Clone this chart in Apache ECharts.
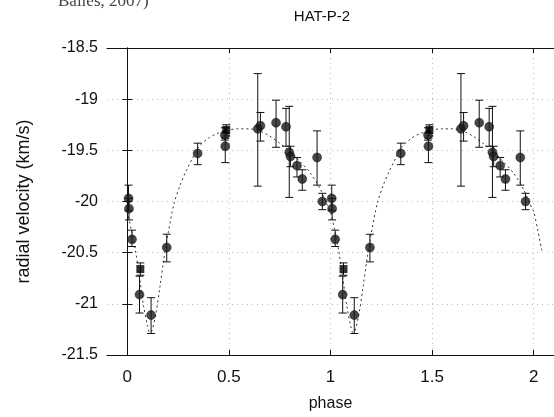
<!DOCTYPE html>
<html><head><meta charset="utf-8">
<script src="https://cdn.jsdelivr.net/npm/echarts@6/dist/echarts.min.js"></script>
<style>html,body{margin:0;padding:0;background:#fff}#c{width:554px;height:417px}</style>
</head><body><div id="c"></div>
<script>
const titleText = 'HAT-P-2';
const xName = 'phase';
const yName = 'radial velocity (km/s)';
const xTicks = [0, 0.5, 1, 1.5, 2];

// circle measurements (two folded cycles)
const circPhase = [0.006, 0.008, 0.023, 0.060, 0.117, 0.194, 0.346, 0.480, 0.482, 0.642, 0.655, 0.732, 0.781, 0.797, 0.803, 0.835, 0.861, 0.934, 0.960,
                   1.006, 1.008, 1.023, 1.060, 1.117, 1.194, 1.346, 1.480, 1.482, 1.642, 1.655, 1.732, 1.781, 1.797, 1.803, 1.835, 1.861, 1.934, 1.960];
const circRV    = [-19.97, -20.07, -20.37, -20.91, -21.11, -20.45, -19.53, -19.35, -19.46, -19.29, -19.26, -19.23, -19.27, -19.52, -19.56, -19.65, -19.78, -19.57, -20.00,
                   -19.97, -20.07, -20.37, -20.91, -21.11, -20.45, -19.53, -19.35, -19.46, -19.29, -19.26, -19.23, -19.27, -19.52, -19.56, -19.65, -19.78, -19.57, -20.00];
const circLo    = [-20.09, -20.18, -20.44, -21.09, -21.29, -20.59, -19.64, -19.40, -19.62, -19.85, -19.41, -19.47, -19.46, -19.96, -19.66, -19.76, -19.89, -19.84, -20.08,
                   -20.09, -20.18, -20.44, -21.09, -21.29, -20.59, -19.64, -19.40, -19.62, -19.85, -19.41, -19.47, -19.46, -19.96, -19.66, -19.76, -19.89, -19.84, -20.08];
const circHi    = [-19.84, -19.97, -20.28, -20.73, -20.94, -20.32, -19.43, -19.28, -19.38, -18.75, -19.13, -19.01, -19.09, -19.07, -19.46, -19.57, -19.69, -19.31, -19.92,
                   -19.84, -19.97, -20.28, -20.73, -20.94, -20.32, -19.43, -19.28, -19.38, -18.75, -19.13, -19.01, -19.09, -19.07, -19.46, -19.57, -19.69, -19.31, -19.92];

// square measurements
const sqPhase = [0.064, 0.487, 1.064, 1.487];
const sqRV    = [-20.66, -19.30, -20.66, -19.30];
const sqLo    = [-20.72, -19.36, -20.72, -19.36];
const sqHi    = [-20.60, -19.25, -20.60, -19.25];

// model curve
const modelPhase = [0.00, 0.02, 0.04, 0.06, 0.08, 0.10, 0.11, 0.12, 0.14, 0.16, 0.18, 0.20, 0.23, 0.26, 0.29, 0.32, 0.35, 0.40, 0.45, 0.50, 0.55, 0.60, 0.65, 0.70, 0.75, 0.80, 0.85, 0.90, 0.95, 0.98,
                    1.00, 1.02, 1.04, 1.06, 1.08, 1.10, 1.11, 1.12, 1.14, 1.16, 1.18, 1.20, 1.23, 1.26, 1.29, 1.32, 1.35, 1.40, 1.45, 1.50, 1.55, 1.60, 1.65, 1.70, 1.75, 1.80, 1.85, 1.90, 1.95, 1.98,
                    2.00, 2.02, 2.04];
const modelRV = [-20.10, -20.28, -20.48, -20.74, -21.02, -21.22, -21.28, -21.27, -21.10, -20.84, -20.56, -20.32, -20.02, -19.84, -19.70, -19.58, -19.47, -19.38, -19.33, -19.30, -19.29, -19.29, -19.31, -19.36, -19.43, -19.51, -19.61, -19.72, -19.88, -20.02,
                 -20.10, -20.28, -20.48, -20.74, -21.02, -21.22, -21.28, -21.27, -21.10, -20.84, -20.56, -20.32, -20.02, -19.84, -19.70, -19.58, -19.47, -19.38, -19.33, -19.30, -19.29, -19.29, -19.31, -19.36, -19.43, -19.51, -19.61, -19.72, -19.88, -20.02,
                 -20.10, -20.28, -20.48];

const zip = (a, b) => a.map((v, i) => [v, b[i]]);
const errData = circPhase.map((p, i) => [p, circLo[i], circHi[i]])
  .concat(sqPhase.map((p, i) => [p, sqLo[i], sqHi[i]]));

const FONT = 'Liberation Sans';
const chart = echarts.init(document.getElementById('c'), null, {renderer: 'canvas'});

function errRender(params, api) {
  const x = api.value(0);
  const top = api.coord([x, api.value(2)]);
  const bot = api.coord([x, api.value(1)]);
  const cw = 4;
  const st = {stroke: '#111', lineWidth: 1};
  return {type: 'group', children: [
    {type: 'line', shape: {x1: top[0], y1: top[1], x2: bot[0], y2: bot[1]}, style: st},
    {type: 'line', shape: {x1: top[0] - cw, y1: top[1], x2: top[0] + cw, y2: top[1]}, style: st},
    {type: 'line', shape: {x1: bot[0] - cw, y1: bot[1], x2: bot[0] + cw, y2: bot[1]}, style: st}
  ]};
}

const xCommon = {type: 'value', min: -0.1, max: 2.1};
const yCommon = {type: 'value', min: -21.5, max: -18.5, interval: 0.5};

chart.setOption({
  animation: false,
  backgroundColor: '#fff',
  grid: {left: 107, right: -3, top: 48, bottom: 62},
  graphic: [
    {type: 'text', x: 322, y: 17, style: {text: titleText, font: '15px "Liberation Sans"', fill: '#111', textAlign: 'center', textVerticalAlign: 'middle'}},
    {type: 'text', x: 58, y: -7, style: {text: 'Bailes, 2007)', font: '17px "Liberation Serif"', fill: '#444', textAlign: 'left', textVerticalAlign: 'top'}}
  ],
  xAxis: [
    Object.assign({}, xCommon, {
      position: 'bottom',
      name: xName, nameLocation: 'middle', nameGap: 41,
      nameTextStyle: {fontFamily: FONT, fontSize: 16, color: '#111'},
      axisLine: {show: true, lineStyle: {color: '#111', width: 1}},
      axisTick: {show: true, inside: true, length: 5, customValues: xTicks, lineStyle: {color: '#111'}},
      axisLabel: {customValues: xTicks, fontFamily: FONT, fontSize: 17, color: '#111', margin: 14},
      splitLine: {show: true, lineStyle: {color: '#bbb', type: [1, 4], width: 1}}
    }),
    Object.assign({}, xCommon, {
      position: 'top',
      axisLine: {show: true, lineStyle: {color: '#111', width: 1}},
      axisTick: {show: true, inside: true, length: 5, customValues: xTicks, lineStyle: {color: '#111'}},
      axisLabel: {show: false},
      splitLine: {show: false}
    })
  ],
  yAxis: [
    Object.assign({}, yCommon, {
      position: 'left',
      name: yName, nameLocation: 'middle', nameGap: 74,
      nameTextStyle: {fontFamily: FONT, fontSize: 18, color: '#111'},
      axisLine: {show: true, lineStyle: {color: '#111', width: 1}},
      axisTick: {show: true, inside: true, length: 5, lineStyle: {color: '#111'}},
      axisLabel: {fontFamily: FONT, fontSize: 16, color: '#111', margin: 9},
      splitLine: {show: true, lineStyle: {color: '#bbb', type: [1, 4], width: 1}}
    }),
    Object.assign({}, yCommon, {
      position: 'right',
      axisLine: {show: true, lineStyle: {color: '#111', width: 1}},
      axisTick: {show: true, inside: true, length: 5, lineStyle: {color: '#111'}},
      axisLabel: {show: false},
      splitLine: {show: false}
    })
  ],
  series: [
    {type: 'line', data: zip(modelPhase, modelRV), showSymbol: false, smooth: 0.3,
     lineStyle: {color: '#333', width: 1, type: [2, 3]}, z: 2},
    {type: 'custom', renderItem: errRender, data: errData, z: 3},
    {type: 'scatter', data: zip(circPhase, circRV), symbol: 'circle', symbolSize: 9,
     itemStyle: {color: '#1a1a1a', borderColor: '#000', borderWidth: 0.5}, z: 4},
    {type: 'scatter', data: zip(sqPhase, sqRV), symbol: 'rect', symbolSize: 8,
     itemStyle: {color: '#000'}, z: 4}
  ]
});
</script></body></html>
